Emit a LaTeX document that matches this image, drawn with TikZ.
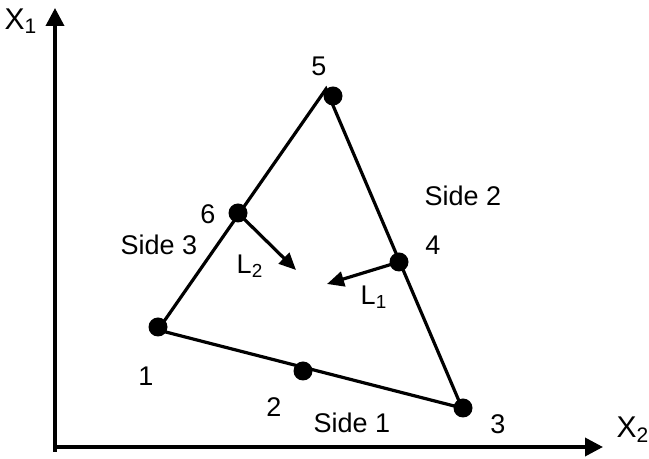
\documentclass[tikz,border=0pt]{standalone}
\usepackage{fontspec}
\setmainfont{Liberation Sans}
\usetikzlibrary{arrows.meta}
\begin{document}
\begin{tikzpicture}[x=0.5pt, y=-0.5pt, axis/.style={-{Triangle[length=9pt,width=9pt]}, line width=1.8pt}, side/.style={line width=1.6pt}, move/.style={-{Triangle[length=8.5pt,width=7.5pt]}, line width=1.6pt}, dot/.style={circle, fill, inner sep=0pt, minimum size=9.5pt}, lab/.style={font=\fontsize{13.5}{16}\selectfont, inner sep=0pt}]

\useasboundingbox (0,0) rectangle (649,459);
\coordinate (O) at (55,447); \coordinate (Ybot) at (55,452); \coordinate (Ytip) at (55,8); \coordinate (Xtip) at (603,447);
\draw[axis] (Ybot)--(Ytip); \draw[axis] (O)--(Xtip);
\node[lab, font=\fontsize{15}{17}\selectfont] (xone) at (21,21) {X\textsubscript{1}}; \node[lab, font=\fontsize{15}{17}\selectfont] (xtwo) at (633,430) {X\textsubscript{2}};

\coordinate (v1) at (158,330); \coordinate (v5) at (326,89); \coordinate (v3) at (462,408);
\draw[side] (v1)--(v5)--(v3)--cycle;
\node[dot] (d1) at (158,327) {}; \node[dot] (d2) at (303,371) {}; \node[dot] (d3) at (463,408) {};
\node[dot] (d4) at (399,262) {}; \node[dot] (d5) at (333,96) {}; \node[dot] (d6) at (238,213) {};

\coordinate (tipL1) at (327,284); \coordinate (tipL2) at (296,270);
\draw[move] (d4.center)--(tipL1); \draw[move] (d6.center)--(tipL2);
\node[lab] (lone) at (374,297) {L\textsubscript{1}}; \node[lab] (ltwo) at (250,266) {L\textsubscript{2}};

\node[lab] (n1) at (146,376) {1}; \node[lab] (n2) at (274,407) {2}; \node[lab] (n3) at (498,424) {3};
\node[lab] (n4) at (433,245) {4}; \node[lab] (n5) at (319,66) {5}; \node[lab] (n6) at (208,214) {6};
\node[lab] (s1) at (352,423) {Side 1}; \node[lab] (s2) at (463,196) {Side 2}; \node[lab] (s3) at (159,245) {Side 3};
\end{tikzpicture}
\end{document}
